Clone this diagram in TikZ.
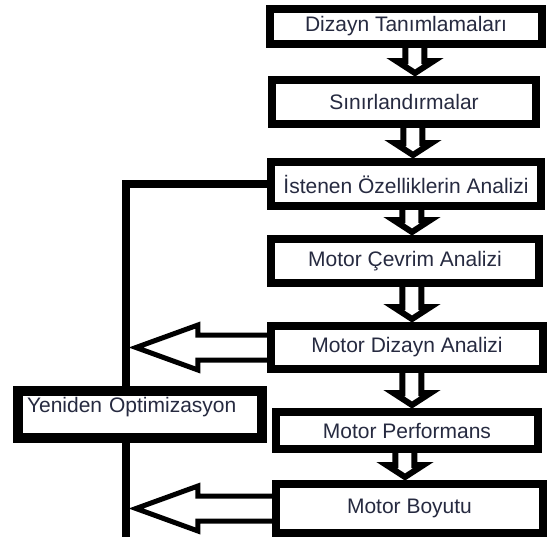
\documentclass[tikz,border=0pt]{standalone}
\usepackage{fontspec}
\setmainfont{Liberation Sans}
\usetikzlibrary{calc,backgrounds}
\definecolor{labelnavy}{HTML}{262A40}
\tikzset{
  stagebox/.style={
    draw=black,
    fill=white,
    line width=4pt,
    inner sep=0pt,
    align=center,
    text=labelnavy,
    font=\fontsize{10.5}{12}\selectfont
  },
  loopbox/.style={
    stagebox,
    line width=5pt,
    align=left,
    inner xsep=4.5pt,
    text width=113pt,
    text depth=9.5pt
  },
  blockarrow/.style={
    draw=black,
    fill=white,
    line width=3pt,
    line join=miter
  },
  sidearrow/.style={
    blockarrow,
    line width=2.5pt
  },
  feedline/.style={
    draw=black,
    line width=4pt
  }
}
% hollow block arrow going down: x position, upper node, lower node
\newcommand{\downflow}[3]{%
  \draw[blockarrow] ($(#1,0 |- #2.south)+(-9.5,-4)$) -- ($(#1,0 |- #3.north)+(-9.5,-15)$)
    -- ++(-9,0) -- ($(#1,0 |- #3.north)+(0,-3)$) -- ($(#1,0 |- #3.north)+(18.5,-15)$)
    -- ++(-9,0) -- ($(#1,0 |- #2.south)+(9.5,-4)$) -- cycle;}
% hollow block arrow going left from a node to the feedback line
\newcommand{\leftflow}[2]{%
  \draw[sidearrow] ($(#1.west)+(3,-12.5)$) -- ($(#2 |- #1.west)+(62,-12.5)$)
    -- ++(0,-10) -- (#2 |- #1.west) -- ($(#2 |- #1.west)+(62,22.5)$)
    -- ++(0,-10) -- ($(#1.west)+(3,12.5)$) -- cycle;}

\begin{document}
\begin{tikzpicture}[x=0.5pt, y=-0.5pt]
    \useasboundingbox (0,0) rectangle (548,537);

    \node[stagebox, minimum width=136pt, minimum height=17.5pt] (tanim) at (406,26.5) {Dizayn Tanımlamaları};
    \node[stagebox, minimum width=132pt, minimum height=22pt] (sinir) at (404,102) {Sınırlandırmalar};
    \node[stagebox, minimum width=135pt, minimum height=22pt] (istenen) at (406,184) {İstenen Özelliklerin Analizi};
    \node[stagebox, minimum width=134pt, minimum height=22pt] (cevrim) at (405,261) {Motor Çevrim Analizi};
    \node[stagebox, minimum width=136pt, minimum height=21.5pt] (dizayn) at (407,347.5) {Motor Dizayn Analizi};
    \node[stagebox, minimum width=131pt, minimum height=18.5pt] (perf) at (407,430.5) {Motor Performans};
    \node[stagebox, minimum width=133.5pt, minimum height=24.5pt] (boyut) at (409.5,508.5) {Motor Boyutu};

    \node[loopbox, minimum width=122pt, minimum height=23.5pt] (yeniden) at (140,414.5) {Yeniden Optimizasyon};

    \coordinate (fbx) at (126,0);
    \coordinate (tipx) at (136,0);
    \coordinate (fbend) at (126,540);

    \begin{scope}[on background layer]
        \downflow{415}{tanim}{sinir}
        \downflow{413}{sinir}{istenen}
        \downflow{412}{istenen}{cevrim}
        \downflow{412}{cevrim}{dizayn}
        \downflow{412}{dizayn}{perf}
        \downflow{405}{perf}{boyut}

        \leftflow{dizayn}{tipx}
        \leftflow{boyut}{tipx}

        \draw[feedline] (istenen.west) -| (fbx |- yeniden.north);
        \draw[feedline] (fbx |- yeniden.south) -- (fbend);
    \end{scope}
\end{tikzpicture}
\end{document}
